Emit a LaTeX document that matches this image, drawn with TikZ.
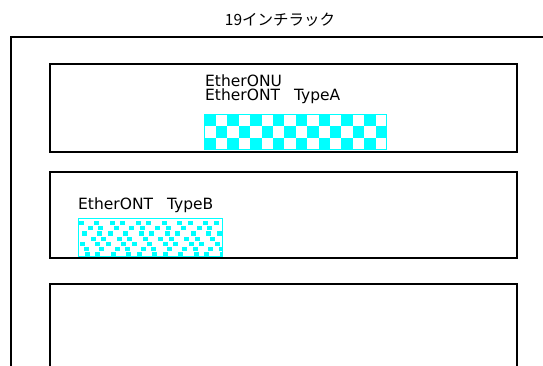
\documentclass[tikz,border=0pt]{standalone}
\usepackage{fontspec}
\setmainfont{DejaVu Sans}
\newfontfamily\jpfont{Noto Sans CJK JP}
\usetikzlibrary{positioning}
\definecolor{rkcyan}{RGB}{0,255,255}
\tikzset{
rkframe/.style={rectangle,draw,line width=1.5pt,inner sep=0pt,anchor=north west},
rklabel/.style={font=\fontsize{15.5}{16}\selectfont,inner sep=0pt,anchor=base west},
rkpanel/.style={rectangle,draw=rkcyan,line width=1pt,inner sep=0pt,anchor=north west},
rkcheck/.style={rkpanel,path picture={
  \foreach \i in {0,...,16}{\foreach \j in {0,1,2}{
    \ifodd\numexpr\i+\j\relax\else
    \fill[rkcyan] ([shift={(11.4*\i,11.7*\j)}]path picture bounding box.north west) rectangle +(11.4,11.7);
    \fi}}}},
rkconfetti/.style={rkpanel,path picture={
  \foreach \j/\o in {0/2,1/8,2/4,3/10,4/1,5/7,6/5}{\foreach \i in {0,...,10}{
    \pgfmathsetmacro{\jit}{mod(\i*7+\j*3,5)-2}
    \fill[rkcyan] ([shift={(\o+13.5*\i+\jit,2.5+5.2*\j)}]path picture bounding box.north west) rectangle +(5,4.2);
    }}}}
}

\begin{document}
\begin{tikzpicture}[x=1pt,y=-1pt]
\clip (0,0) rectangle (543,365);
\node[font=\jpfont\fontsize{15.5}{16}\selectfont] (title) at (280,20) {19インチラック};
\node[rkframe,minimum width=560pt,minimum height=345pt] (rack) at (10,36) {};
\node[rkframe,minimum width=467pt,minimum height=88pt] (shelfA) at (49,63) {};
\node[rkframe,minimum width=467pt,minimum height=86pt] (shelfB) at (49,171) {};
\node[rkframe,minimum width=467pt,minimum height=100pt] (shelfC) at (49,283) {};
% shelf A
\node[rklabel] (onu) at (205,86) {EtherONU};
\node[rklabel] (ontA) at (205,100) {EtherONT\hspace{14pt}TypeA};
\node[rkcheck,minimum width=182pt,minimum height=35pt] (panelA) at (204,114) {};
% shelf B
\node[rklabel] (ontB) at (78,209) {EtherONT\hspace{14pt}TypeB};
\node[rkconfetti,minimum width=144pt,minimum height=38pt] (panelB) at (78,218) {};
\end{tikzpicture}
\end{document}
